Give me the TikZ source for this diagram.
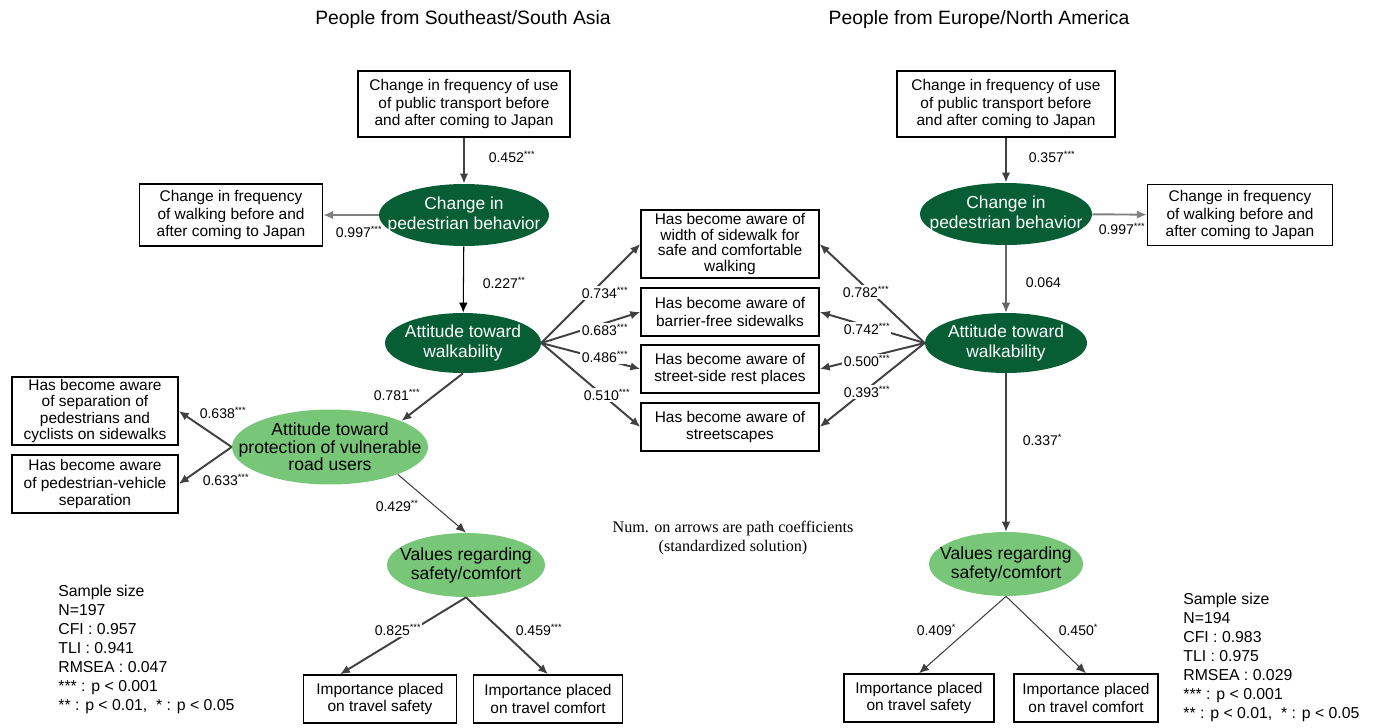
\documentclass[tikz,border=0pt]{standalone}
\usepackage{fontspec}
\setmainfont{Liberation Sans}
\newfontfamily\notefont{Liberation Serif}
\usetikzlibrary{arrows.meta, shapes.geometric, calc}
\definecolor{darkgreen}{RGB}{8,94,52}
\definecolor{lightgreen}{RGB}{120,198,120}
\definecolor{arrowgray}{RGB}{64,64,64}
\definecolor{walkgray}{RGB}{128,128,128}
\newcommand{\coef}[2]{#1\raisebox{2.4pt}{\fontsize{5.2}{6}\selectfont#2}}

\begin{document}
\begin{tikzpicture}[
    x=0.02cm, y=-0.02cm,
    box/.style={
        draw=black,
        fill=white,
        rectangle,
        align=center,
        inner sep=1pt,
        line width=0.8pt,
        font=\fontsize{8.8}{10.2}\selectfont
    },
    latent/.style={
        ellipse,
        draw=none,
        inner sep=0pt
    },
    dark/.style={latent, fill=darkgreen},
    light/.style={latent, fill=lightgreen},
    dtext/.style={align=center, text=white, font=\fontsize{9.9}{11.8}\selectfont},
    ltext/.style={align=center, text=black, font=\fontsize{10}{10.8}\selectfont},
    arrow/.style={
        -{Latex[length=2mm,width=1.7mm]},
        line width=1.1pt,
        draw=arrowgray
    },
    thinarrow/.style={arrow, line width=0.6pt},
    coef/.style={
        anchor=west,
        fill=white,
        inner sep=0.8pt,
        font=\fontsize{8}{9}\selectfont
    },
    stats/.style={
        anchor=north west,
        align=left,
        inner sep=0pt,
        font=\fontsize{9}{10.8}\selectfont
    },
    title/.style={font=\fontsize{11}{13}\selectfont}
]
\useasboundingbox (0,0) rectangle (1375,727);

% group titles
\node[title] (tleft) at (463,20) {People from Southeast/South Asia};
\node[title] (tright) at (979,20) {People from Europe/North America};

% left model
\node[box, minimum width=4.24cm, minimum height=1.32cm] (pt1) at (464,104) {
    Change in frequency of use\\
    of public transport before\\
    and after coming to Japan
};
\node[dark, minimum width=3.4cm, minimum height=1.24cm,
    label={[dtext]center:{Change in\\pedestrian behavior}}] (cpb1) at (464,215) {};
\node[box, minimum width=3.66cm, minimum height=1.24cm] (walk1) at (231,215) {
    Change in frequency\\
    of walking before and\\
    after coming to Japan
};
\node[dark, minimum width=3.12cm, minimum height=1.2cm,
    label={[dtext]center:{Attitude toward\\walkability}}] (att1) at (463,343) {};
\node[light, minimum width=3.92cm, minimum height=1.5cm,
    label={[ltext, font=\fontsize{10}{10}\selectfont]center:{Attitude toward\\protection of vulnerable\\road users}}] (prot1) at (330,447) {};
\node[box, minimum width=3.32cm, minimum height=1.36cm,
    font=\fontsize{8.8}{9.4}\selectfont] (sep1) at (95,411) {
    Has become aware\\
    of separation of\\
    pedestrians and\\
    cyclists on sidewalks
};
\node[box, minimum width=3.32cm, minimum height=1.16cm] (pv1) at (95,484) {
    Has become aware\\
    of pedestrian-vehicle\\
    separation
};
\node[light, minimum width=3.16cm, minimum height=1.28cm,
    label={[ltext]center:{Values regarding\\safety/comfort}}] (val1) at (466,565) {};
\node[box, minimum width=3.06cm, minimum height=0.96cm] (safe1) at (380,699) {
    Importance placed\\on travel safety
};
\node[box, minimum width=2.98cm, minimum height=0.96cm] (comf1) at (548,699) {
    Importance placed\\on travel comfort
};

% shared indicators
\node[box, minimum width=3.56cm, minimum height=1.36cm,
    font=\fontsize{8.8}{9}\selectfont] (wid) at (730,244) {
    Has become aware of\\
    width of sidewalk for\\
    safe and comfortable\\
    walking
};
\node[box, minimum width=3.56cm, minimum height=0.96cm] (bfree) at (730,312) {
    Has become aware of\\barrier-free sidewalks
};
\node[box, minimum width=3.56cm, minimum height=0.96cm] (rest) at (730,369) {
    Has become aware of\\street-side rest places
};
\node[box, minimum width=3.56cm, minimum height=0.96cm] (scape) at (730,427) {
    Has become aware of\\streetscapes
};

% right model
\node[box, minimum width=4.36cm, minimum height=1.32cm] (pt2) at (1006,104) {
    Change in frequency of use\\
    of public transport before\\
    and after coming to Japan
};
\node[dark, minimum width=3.44cm, minimum height=1.24cm,
    label={[dtext]center:{Change in\\pedestrian behavior}}] (cpb2) at (1006,214) {};
\node[box, minimum width=3.7cm, minimum height=1.22cm] (walk2) at (1240,215) {
    Change in frequency\\
    of walking before and\\
    after coming to Japan
};
\node[dark, minimum width=3.24cm, minimum height=1.2cm,
    label={[dtext]center:{Attitude toward\\walkability}}] (att2) at (1006,343) {};
\node[light, minimum width=3.08cm, minimum height=1.28cm,
    label={[ltext]center:{Values regarding\\safety/comfort}}] (val2) at (1006,564) {};
\node[box, minimum width=3.0cm, minimum height=0.96cm] (safe2) at (919,698) {
    Importance placed\\on travel safety
};
\node[box, minimum width=2.88cm, minimum height=0.96cm] (comf2) at (1086,698) {
    Importance placed\\on travel comfort
};

% arrows, left
\draw[arrow] (pt1) -- (cpb1);
\draw[arrow, draw=walkgray] (cpb1) -- (walk1);
\draw[thinarrow, draw=black] (cpb1) -- (att1);
\draw[arrow] (att1.south) -- (prot1.20);
\draw[arrow] (prot1.west) -- (sep1.east);
\draw[arrow] (prot1.west) -- (pv1.east);
\draw[thinarrow] (prot1.-22) -- (val1.north);
\draw[arrow] (val1.south) -- ($(safe1.north)+(-40,0)$);
\draw[arrow] (val1.south) -- (comf1.north);
\foreach \t in {wid,bfree,rest,scape}
    \draw[arrow] (att1.east) -- (\t.west);

% arrows, right
\draw[arrow] (pt2) -- (cpb2);
\draw[arrow, draw=walkgray] (cpb2) -- (walk2);
\draw[thinarrow, draw=arrowgray!80] (cpb2) -- (att2);
\foreach \t in {wid,bfree,rest,scape}
    \draw[arrow] (att2.west) -- (\t.east);
\draw[thinarrow] (att2) -- (val2);
\draw[thinarrow] (val2.south) -- (safe2.north);
\draw[thinarrow] (val2.south) -- (comf2.north);

% path coefficients
\node[coef] (c452) at (487,157) {\coef{0.452}{***}};
\node[coef] (c997a) at (334,232) {\coef{0.997}{***}};
\node[coef] (c227) at (481,283) {\coef{0.227}{**}};
\node[coef] (c781) at (372,395) {\coef{0.781}{***}};
\node[coef] (c638) at (198,413) {\coef{0.638}{***}};
\node[coef] (c633) at (201,480) {\coef{0.633}{***}};
\node[coef] (c429) at (374,506) {\coef{0.429}{**}};
\node[coef] (c825) at (373,630) {\coef{0.825}{***}};
\node[coef] (c459) at (514,630) {\coef{0.459}{***}};
\node[coef] (c734) at (580,293) {\coef{0.734}{***}};
\node[coef] (c683) at (580,330) {\coef{0.683}{***}};
\node[coef] (c486) at (580,357) {\coef{0.486}{***}};
\node[coef] (c510) at (582,395) {\coef{0.510}{***}};
\node[coef] (c782) at (841,292) {\coef{0.782}{***}};
\node[coef] (c742) at (842,329) {\coef{0.742}{***}};
\node[coef] (c500) at (842,361) {\coef{0.500}{***}};
\node[coef] (c393) at (842,392) {\coef{0.393}{***}};
\node[coef] (c357) at (1027,157) {\coef{0.357}{***}};
\node[coef] (c997b) at (1097,229) {\coef{0.997}{***}};
\node[coef] (c064) at (1024,283) {0.064};
\node[coef] (c337) at (1021,440) {\coef{0.337}{*}};
\node[coef] (c409) at (915,630) {\coef{0.409}{*}};
\node[coef] (c450) at (1057,630) {\coef{0.450}{*}};

% notes
\node[align=center, font=\notefont\fontsize{9.2}{11}\selectfont] (note) at (733,538) {
    Num. on arrows are path coefficients\\
    (standardized solution)
};
\node[stats] (statsl) at (58,585) {
    Sample size\\
    N=197\\
    CFI : 0.957\\
    TLI : 0.941\\
    RMSEA : 0.047\\
    *** : p < 0.001\\
    ** : p < 0.01,\ \ * : p < 0.05
};
\node[stats] (statsr) at (1183,593) {
    Sample size\\
    N=194\\
    CFI : 0.983\\
    TLI : 0.975\\
    RMSEA : 0.029\\
    *** : p < 0.001\\
    ** : p < 0.01,\ \ * : p < 0.05
};

\end{tikzpicture}
\end{document}
